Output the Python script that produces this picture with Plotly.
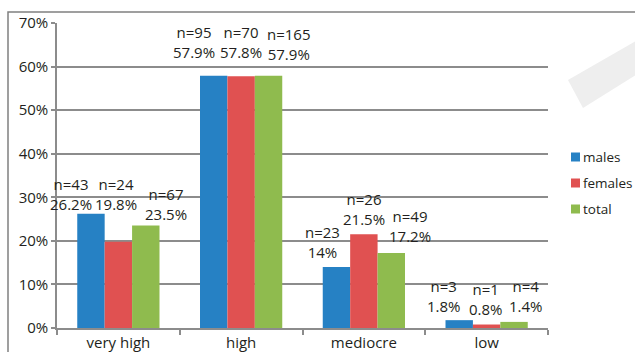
import plotly.graph_objects as go

# ---- data ----
categories = ["very high", "high", "mediocre", "low"]
series_names = ["males", "females", "total"]
males_pct = [26.2, 57.9, 14.0, 1.8]
females_pct = [19.8, 57.8, 21.5, 0.8]
total_pct = [23.5, 57.9, 17.2, 1.4]
males_n = [43, 95, 23, 3]
females_n = [24, 70, 26, 1]
total_n = [67, 165, 49, 4]

# ---- style ----
colors = ["#2681C4", "#E05151", "#8FBB4E"]
FONT = "Open Sans"
FS = 15
FS_LEG = 13.5
W, H = 635, 352
ML, MR, MT, MB = 57, 87, 23, 24
PW, PH = W - ML - MR, H - MT - MB
BARGAP = 0.33
Y_MAX = 70

# label nudges (dx px from bar centre, gap px from bar top to lower text line)
label_nudge = [
    [(-20, 9), (-20, 23), (-14, 14), (-15, 13)],
    [(-2, 37), (0, 23), (0, 14), (-1, 14.5)],
    [(20, 10.5), (20, 21), (19, 16), (12, 15)],
]


def px_x(px):
    return (px - ML) / PW


def px_y(py):
    return (H - MB - py) / PH


values = [males_pct, females_pct, total_pct]
counts = [males_n, females_n, total_n]

fig = go.Figure()
for name, vals, col in zip(series_names, values, colors):
    fig.add_trace(go.Bar(
        name=name, x=categories, y=vals, marker=dict(color=col, line=dict(width=0)),
        showlegend=False, hoverinfo="skip",
    ))

# data labels
cat_w = PW / len(categories)
bar_w = cat_w * (1 - BARGAP) / len(series_names)
for si, (vals, ns) in enumerate(zip(values, counts)):
    offset = (si - 1) * bar_w
    for ci, cat in enumerate(categories):
        dx, gap = label_nudge[si][ci]
        fig.add_annotation(
            x=cat, y=vals[ci], xref="x", yref="y",
            text=f"n={ns[ci]}<br>{vals[ci]:g}%",
            showarrow=False, xanchor="center", yanchor="bottom",
            xshift=offset + dx, yshift=gap - 10,
            font=dict(family=FONT, size=FS, color="#231F20"),
            align="center", borderpad=0,
        )

# legend
leg_y = [157, 183, 209]
for name, col, ly in zip(series_names, colors, leg_y):
    fig.add_shape(type="rect", xref="paper", yref="paper",
                  x0=px_x(571), x1=px_x(580), y0=px_y(ly + 4.5), y1=px_y(ly - 4.5),
                  fillcolor=col, line=dict(width=0))
    fig.add_annotation(x=px_x(582), y=px_y(ly), xref="paper", yref="paper",
                       text=name, showarrow=False, xanchor="left", yanchor="middle",
                       font=dict(family=FONT, size=FS_LEG, color="#231F20"), borderpad=0)

# outer frame
fig.add_shape(type="rect", xref="paper", yref="paper",
              x0=px_x(8), x1=px_x(660), y0=px_y(380), y1=px_y(12),
              line=dict(color="#808080", width=1.5), fillcolor="rgba(0,0,0,0)", layer="below")

# light diagonal stroke at upper right
pts = [(568, 80), (583, 108), (660, 60), (660, 27)]
path = "M " + " L ".join(f"{px_x(a):.4f},{px_y(b):.4f}" for a, b in pts) + " Z"
fig.add_shape(type="path", xref="paper", yref="paper", path=path,
              fillcolor="#EEEEEE", line=dict(width=0), layer="below")

fig.update_layout(
    width=W, height=H,
    margin=dict(l=ML, r=MR, t=MT, b=MB, pad=0),
    paper_bgcolor="white", plot_bgcolor="white",
    barmode="group", bargap=BARGAP, bargroupgap=0,
    font=dict(family=FONT, size=FS, color="#231F20"),
    xaxis=dict(
        range=[-0.5, len(categories) - 0.5],
        showgrid=False, showline=True, linecolor="#8C8C8C", linewidth=2,
        ticks="outside", tickson="boundaries", ticklen=5, tickcolor="#8C8C8C", tickwidth=1.5,
        tickfont=dict(family=FONT, size=FS, color="#231F20"), fixedrange=True,
        automargin=False,
    ),
    yaxis=dict(
        range=[0, Y_MAX], dtick=10, ticksuffix="%",
        showgrid=True, gridcolor="#8C8C8C", gridwidth=2,
        showline=True, linecolor="#8C8C8C", linewidth=1.5,
        ticks="outside", ticklen=4, tickcolor="#8C8C8C", tickwidth=1.5,
        zeroline=False, tickfont=dict(family=FONT, size=FS, color="#231F20"),
        fixedrange=True, automargin=False,
    ),
)

fig.write_html("out.html")
